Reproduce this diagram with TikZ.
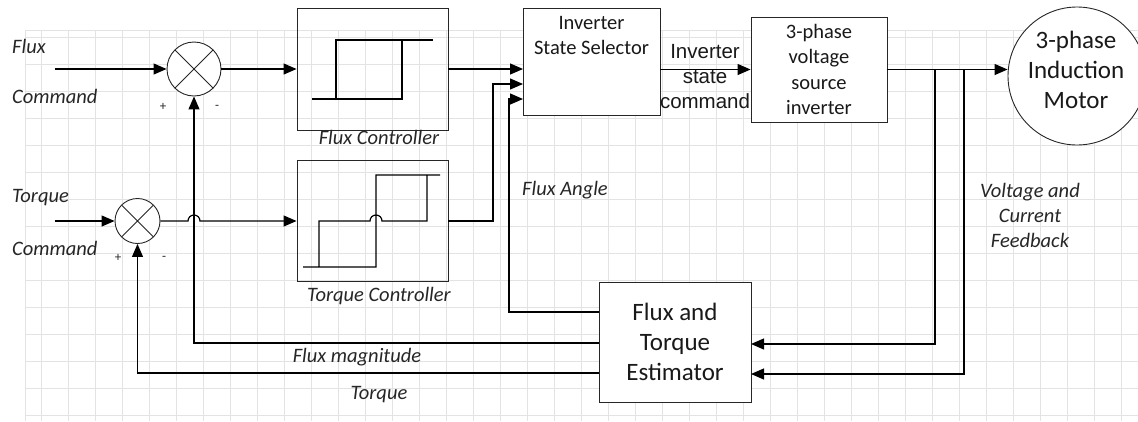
\documentclass[tikz,border=0pt]{standalone}
\usepackage{fontspec}
\setmainfont{Carlito}
\newfontfamily\arialfont{Liberation Sans}
\usetikzlibrary{arrows.meta, positioning, calc}

\begin{document}
\begin{tikzpicture}[x=1pt, y=-1pt,
  gridline/.style={gray!22, line width=0.8pt},
  blk/.style={draw=black!85, line width=0.9pt, rectangle, inner sep=0pt},
  sumjn/.style={draw=black!85, line width=0.9pt, circle, fill=white, inner sep=0pt,
    path picture={\draw[black!85, line width=0.9pt]
      (path picture bounding box.north west) -- (path picture bounding box.south east)
      (path picture bounding box.north east) -- (path picture bounding box.south west);}},
  sig/.style={line width=1.2pt, -{Triangle[length=13pt, width=11pt]}},
  wire/.style={line width=1.2pt},
  lbl/.style={font=\fontsize{20.5}{25}\selectfont\itshape, text=black!85, align=center, inner sep=0pt},
  sgn/.style={font=\fontsize{13}{13}\selectfont, text=black!85, inner sep=0pt},
  boxtxt/.style={font=\fontsize{20.5}{25.5}\selectfont, text=black!90, align=center},
]
\useasboundingbox (0,0) rectangle (1138,421);
% Background grid
\draw[gridline] (25,30) -- (1138,30) (25,30) -- (25,421);
\foreach \k in {0,...,40} \draw[gridline] (41+27*\k,30) -- (41+27*\k,421);
\foreach \k in {0,...,14} \draw[gridline] (25,37+27*\k) -- (1138,37+27*\k);

% Summing junctions and controllers
\node[sumjn, minimum size=54pt] (s1) at (194,69) {};
\node[sumjn, minimum size=45pt] (s2) at (137.5,221) {};
\node[blk, minimum width=151pt, minimum height=122pt] (fc) at (372.5,69) {};
\node[blk, minimum width=151pt, minimum height=121pt] (tc) at (372.5,221) {};
% Selector, inverter, motor, estimator
\node[blk, fill=white, minimum width=137pt, minimum height=107pt] (iss) at (591.5,61.5) {};
\node[boxtxt] (isstxt) at (591.5,35.5) {Inverter\\State Selector};
\node[blk, boxtxt, fill=white, minimum width=136pt, minimum height=105pt] (vsi) at (819,69.5) {3-phase\\voltage\\source\\inverter};
\node[draw=black!85, line width=0.9pt, circle, fill=white, minimum size=138pt, inner sep=0pt] (motor) at (1077,76) {};
\node[font=\fontsize{25}{30}\selectfont, text=black!90, align=center] (motortxt) at (1076,70) {3-phase\\Induction\\Motor};
\node[blk, fill=white, minimum width=152pt, minimum height=120pt,
  font=\fontsize{25}{30}\selectfont, text=black!90, align=center] (est) at (675,342) {Flux and\\Torque\\Estimator};

% Hysteresis curves
\draw[wire] (312,99) -- (402,99) -- (402,40) (336,100) -- (336,40) -- (433,40);
\draw[wire] (303,267) -- (376,267) -- (376,175) -- (440,175)
  (427,175) -- (427,221) -- (382,221) arc[start angle=0, end angle=-180, radius=6] -- (319,221) -- (319,267);

% Connection points
\coordinate (fin) at (55,69);
\coordinate (tin) at (55,221);
\coordinate (iss1) at (523,69);
\coordinate (iss2) at (523,84);
\coordinate (iss3) at (523,99);
\coordinate (tap1) at (935,69);
\coordinate (tap2) at (964,69);
\coordinate (estL1) at (599,312);
\coordinate (estL2) at (599,343);
\coordinate (estL3) at (599,373);
\coordinate (estR1) at (751,344);
\coordinate (estR2) at (751,374);

% Signal paths
\draw[sig] (fin) -- (s1.west);
\draw[sig] (s1.east) -- (fc.west);
\draw[sig] (fc.east) -- (iss1);
\draw[sig] (tin) -- (s2.west);
\draw[sig] (s2.east) -- ($(s1.south |- s2.east)+(-6,0)$) arc[start angle=180, end angle=360, radius=6] -- (tc.west);
\draw[sig] (tc.east) -| ($(iss2)+(-30,0)$) -- (iss2);
\draw[sig] (estL1) -| ($(iss3)+(-14,0)$) -- (iss3);
\draw[sig] (estL2) -| (s1.south);
\draw[sig] (estL3) -| (s2.south);
\draw[sig] (iss.east |- vsi.west) -- (vsi.west);
\draw[sig] (vsi.east) -- (motor.west |- vsi.east);
\draw[sig] (tap1) |- (estR1);
\draw[sig] (tap2) |- (estR2);

% Labels
\node[lbl, anchor=west] (fluxlbl) at (12,46) {Flux};
\node[lbl, anchor=west] (fluxcmd) at (12,96) {Command};
\node[lbl, anchor=west] (torqlbl) at (12,198) {Torque};
\node[lbl, anchor=west] (torqcmd) at (12,248) {Command};
\node[sgn] (s1plus) at (163,107) {+};
\node[sgn] (s1minus) at (217,107) {-};
\node[sgn] (s2plus) at (118,258) {+};
\node[sgn] (s2minus) at (164,258) {-};
\node[lbl] (fclbl) at (379,137) {Flux Controller};
\node[lbl] (tclbl) at (379,296) {Torque Controller};
\node[lbl] (anglbl) at (565,190) {Flux Angle};
\node[lbl] (maglbl) at (357,357) {Flux magnitude};
\node[lbl] (trqlbl) at (379,395) {Torque};
\node[lbl] (fblbl) at (1030,215) {Voltage and\\Current\\Feedback};
\node[font=\arialfont\fontsize{20.5}{25}\selectfont, text=black!90, align=center, inner sep=0pt] (cmdlbl) at (705,77) {Inverter\\state\\command};
\end{tikzpicture}
\end{document}
